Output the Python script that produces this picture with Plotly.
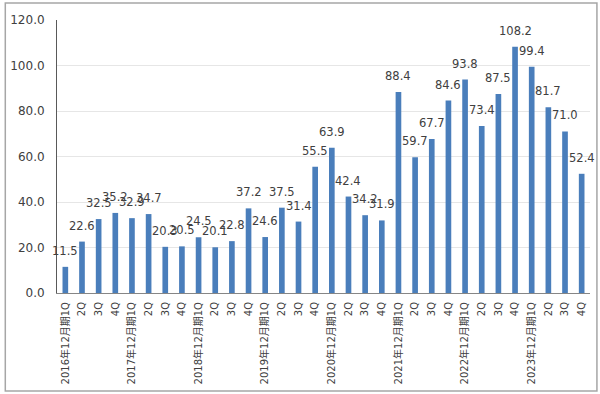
import plotly.graph_objects as go

years = ["2016", "2017", "2018", "2019", "2020", "2021", "2022", "2023"]
quarters = ["1Q", "2Q", "3Q", "4Q"]
values = [
    11.5, 22.6, 32.5, 35.2,
    32.9, 34.7, 20.3, 20.5,
    24.5, 20.1, 22.8, 37.2,
    24.6, 37.5, 31.4, 55.5,
    63.9, 42.4, 34.2, 31.9,
    88.4, 59.7, 67.7, 84.6,
    93.8, 73.4, 87.5, 108.2,
    99.4, 81.7, 71.0, 52.4,
]
tick_labels = []
for y in years:
    for q in quarters:
        tick_labels.append(f"{y}年12月期{q}" if q == "1Q" else q)

xs = list(range(len(values)))
bar_color = "#4a7ebb"
text_color = "#404040"
font_family = "DejaVu Sans, Noto Sans CJK JP, sans-serif"

fig = go.Figure()
fig.add_trace(go.Bar(x=xs, y=values, marker_color=bar_color, marker_line_width=0))

annotations = [
    dict(x=x, y=v, text=f"{v:.1f}", showarrow=False, xref="x", yref="y",
         yanchor="bottom", yshift=7, font=dict(size=11.5, color=text_color, family=font_family))
    for x, v in zip(xs, values)
]

fig.update_layout(
    width=600, height=394,
    margin=dict(l=55, r=10, t=20, b=101),
    paper_bgcolor="white", plot_bgcolor="white",
    bargap=0.66, showlegend=False,
    font=dict(family=font_family, color=text_color),
    annotations=annotations,
    shapes=[dict(type="rect", xref="paper", yref="paper",
                 x0=-0.097, x1=1.013, y0=-0.359, y1=1.062,
                 line=dict(color="#a6a6a6", width=1.5), fillcolor="rgba(0,0,0,0)")],
)
fig.update_xaxes(
    range=[-0.5, len(values) - 0.5], tickmode="array", tickvals=xs, ticktext=tick_labels,
    tickangle=-90, tickfont=dict(size=10, color=text_color),
    showline=True, linecolor="#868686", linewidth=1, showgrid=False, ticks="",
    ticklabelstandoff=4,
)
fig.update_yaxes(
    range=[0, 120], dtick=20, tickformat=".1f",
    tickfont=dict(size=12, color=text_color),
    showgrid=True, gridcolor="#e6e6e6", gridwidth=1,
    showline=True, linecolor="#595959", linewidth=1, zeroline=False, ticks="",
    ticklabelstandoff=9,
)
fig.write_html("out.html", post_script="document.body.style.margin='0';",
               config={"displayModeBar": False})
